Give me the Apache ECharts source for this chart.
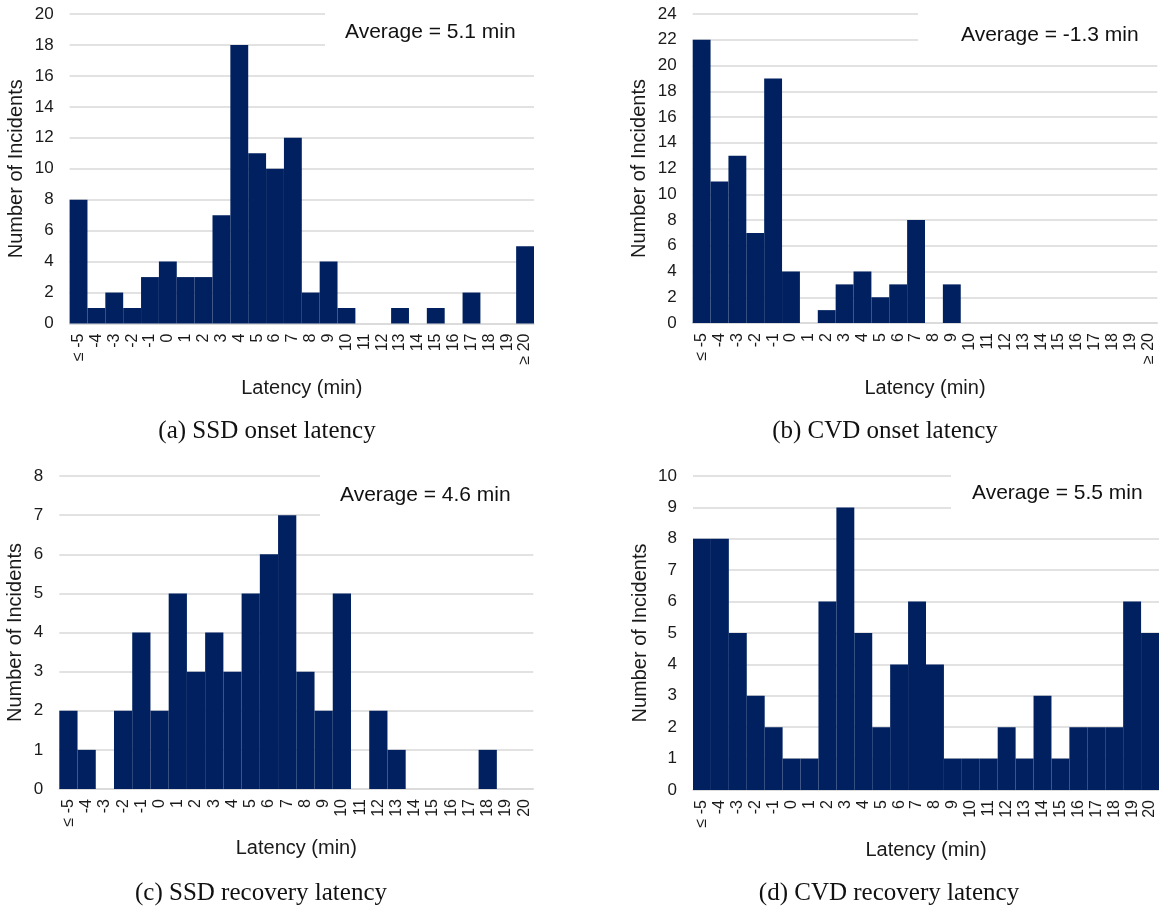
<!DOCTYPE html>
<html>
<head>
<meta charset="utf-8">
<script src="https://cdn.jsdelivr.net/npm/echarts@6/dist/echarts.min.js"></script>
<style>
html,body{margin:0;padding:0;background:#fff;}
#chart{width:1159px;height:909px;}
</style>
</head>
<body>
<div id="chart"></div>
<script>
// Categories (latency in minutes)
const catsOnset = ['≤ -5','-4','-3','-2','-1','0','1','2','3','4','5','6','7','8','9','10','11','12','13','14','15','16','17','18','19','≥ 20'];
const catsRecovery = ['≤ -5','-4','-3','-2','-1','0','1','2','3','4','5','6','7','8','9','10','11','12','13','14','15','16','17','18','19','20'];

// Number of incidents per latency bin
const ssdOnset = [8,1,2,1,3,4,3,3,7,18,11,10,12,2,4,1,0,0,1,0,1,0,2,0,0,5];
const cvdOnset = [22,11,13,7,19,4,0,1,3,4,2,3,8,0,3,0,0,0,0,0,0,0,0,0,0,0];
const ssdRecovery = [2,1,0,2,4,2,5,3,4,3,5,6,7,3,2,5,0,2,1,0,0,0,0,1,0,0];
const cvdRecovery = [8,8,5,3,2,1,1,6,9,5,2,4,6,4,1,1,1,2,1,3,1,2,2,2,6,5];

// Averages and captions
const averages = ['Average = 5.1 min','Average = -1.3 min','Average = 4.6 min','Average = 5.5 min'];
const captions = ['(a) SSD onset latency','(b) CVD onset latency','(c) SSD recovery latency','(d) CVD recovery latency'];
const yMax = [20,24,8,10];
const yStep = [2,2,1,1];

const BAR = '#002060';
const GRID = '#d9d9d9';
const TXT = '#1a1a1a';
const SANS = '"Liberation Sans", Arial, sans-serif';
const SERIF = '"Liberation Serif", "Times New Roman", serif';

const panels = [
  {cats: catsOnset, data: ssdOnset, grid:{left:69.6, top:14, width:464.4, height:309.5}, yGap:43, xGap:55,
   box:{x:325,y:0,w:212,h:60}, avg:{x:345,y:32}, cap:{x:267,y:431}},
  {cats: catsOnset, data: cvdOnset, grid:{left:692.7, top:14, width:464.6, height:309}, yGap:43, xGap:55,
   box:{x:918,y:0,w:241,h:52}, avg:{x:961,y:35}, cap:{x:885,y:431}},
  {cats: catsRecovery, data: ssdRecovery, grid:{left:59.3, top:476, width:474, height:313}, yGap:34, xGap:49,
   box:{x:320,y:460,w:215,h:70}, avg:{x:340,y:495}, cap:{x:261,y:893}},
  {cats: catsRecovery, data: cvdRecovery, grid:{left:693, top:476, width:466, height:314}, yGap:43, xGap:50,
   box:{x:951,y:460,w:208,h:65}, avg:{x:972,y:493}, cap:{x:889,y:893}}
];

const grids = [], xAxes = [], yAxes = [], series = [], graphics = [];
panels.forEach((p, i) => {
  grids.push(Object.assign({containLabel:false}, p.grid));
  xAxes.push({
    type:'category', gridIndex:i, data:p.cats, boundaryGap:true,
    name:'Latency (min)', nameLocation:'middle', nameGap:p.xGap,
    nameTextStyle:{fontFamily:SANS, fontSize:20, color:TXT},
    axisLine:{show:true, lineStyle:{color:GRID, width:1.5}},
    axisTick:{show:false},
    axisLabel:{interval:0, rotate:90, margin:10, fontFamily:SANS, fontSize:16, color:TXT}
  });
  yAxes.push({
    type:'value', gridIndex:i, min:0, max:yMax[i], interval:yStep[i],
    name:'Number of Incidents', nameLocation:'middle', nameRotate:90, nameGap:p.yGap,
    nameTextStyle:{fontFamily:SANS, fontSize:20, color:TXT},
    axisLine:{show:false}, axisTick:{show:false},
    axisLabel:{margin:16, fontFamily:SANS, fontSize:17, color:TXT},
    splitLine:{show:true, lineStyle:{color:GRID, width:1.5}}
  });
  series.push({
    type:'bar', xAxisIndex:i, yAxisIndex:i, data:p.data,
    barCategoryGap:'0%', barGap:'0%',
    itemStyle:{color:BAR}, animation:false
  });
  graphics.push({type:'rect', z:100, shape:{x:p.box.x, y:p.box.y, width:p.box.w, height:p.box.h}, style:{fill:'#fff'}});
  graphics.push({type:'text', z:101, x:p.avg.x, y:p.avg.y,
    style:{text:averages[i], fill:'#111', fontFamily:SANS, fontSize:21, textAlign:'left', textVerticalAlign:'middle', verticalAlign:'middle'}});
  graphics.push({type:'text', z:101, x:p.cap.x, y:p.cap.y,
    style:{text:captions[i], fill:'#111', fontFamily:SERIF, fontSize:25, textAlign:'center', textVerticalAlign:'middle', align:'center', verticalAlign:'middle'}});
});

const chart = echarts.init(document.getElementById('chart'), null, {renderer:'canvas'});
chart.setOption({
  animation:false,
  backgroundColor:'#fff',
  grid:grids, xAxis:xAxes, yAxis:yAxes, series:series,
  graphic:{elements:graphics}
});
</script>
</body>
</html>
